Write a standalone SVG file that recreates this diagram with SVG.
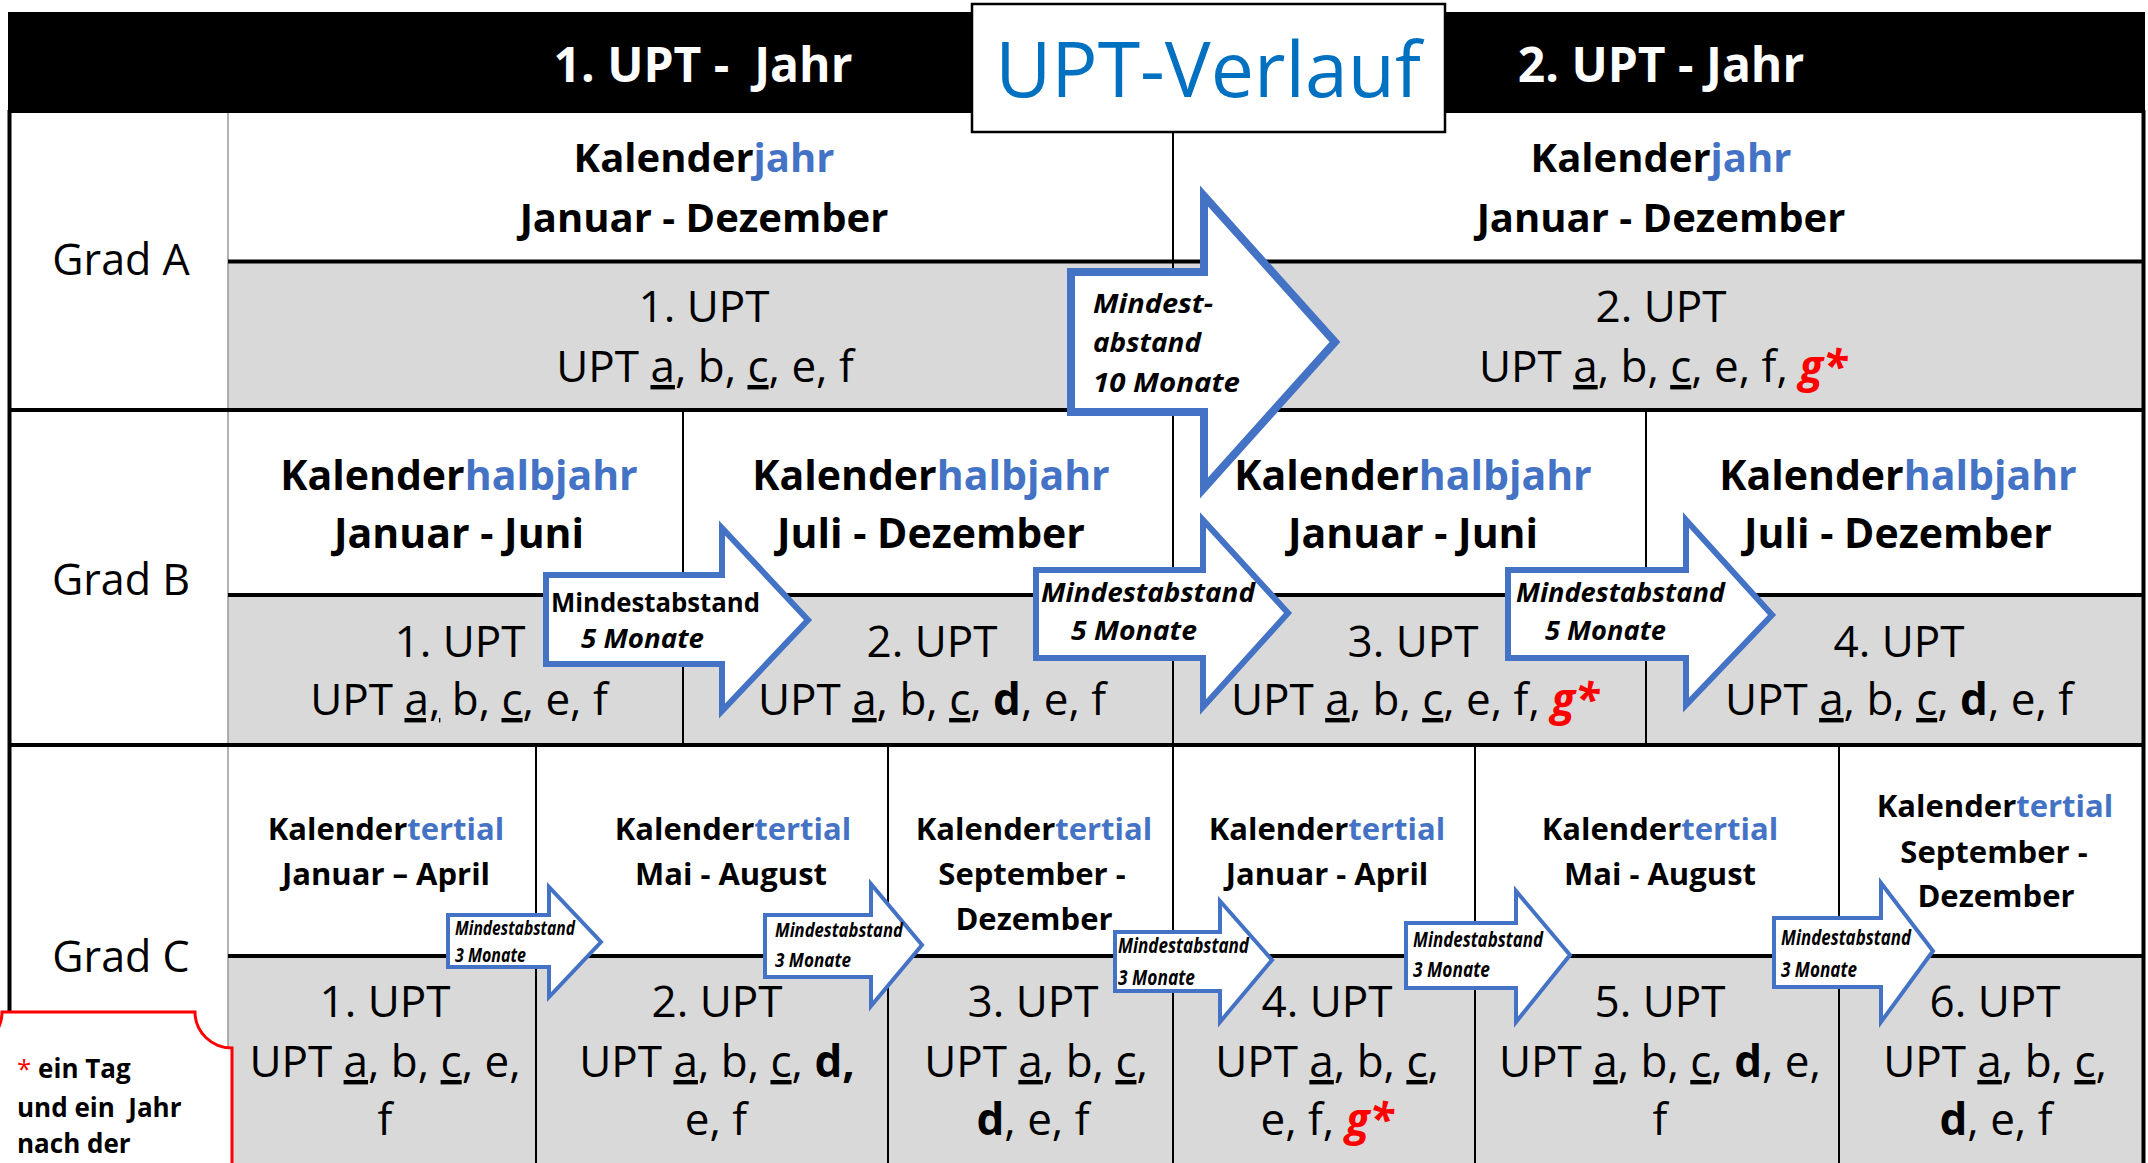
<svg xmlns="http://www.w3.org/2000/svg" width="2148" height="1163" viewBox="0 0 2148 1163">
<style>
text{font-family:"Open Sans","Liberation Sans",sans-serif;fill:#000}
.hdr{font-size:48px;font-weight:bold;fill:#fff;text-anchor:middle}
.ttl{font-size:77px;fill:#0070C0;text-anchor:middle}
.grad{font-size:43px;text-anchor:middle}
.ka{font-size:40px;font-weight:bold;text-anchor:middle}
.ua{font-size:44px;text-anchor:middle}
.kb{font-size:41px;font-weight:bold;text-anchor:middle}
.ub{font-size:44px;text-anchor:middle}
.kc{font-size:31px;font-weight:bold;text-anchor:middle}
.uc{font-size:44px;text-anchor:middle}
.bl{fill:#4472C4}
.u{text-decoration:underline}
.d{font-weight:bold}
.g{fill:#FF0000;font-weight:bold;font-style:italic}
.arr{fill:#fff;stroke:#4472C4;stroke-linejoin:miter}
.at{font-weight:bold;font-style:italic}
.thick{stroke:#000;stroke-width:4}
.thin{stroke:#000;stroke-width:2}
.note{font-size:26px;font-weight:bold}
</style>
<rect width="2148" height="1163" fill="#fff"/>
<g id="table">
<rect x="8" y="12" width="2137" height="101" fill="#000"/>
<rect x="228" y="261" width="1916" height="149" fill="#D9D9D9"/>
<rect x="228" y="595" width="1916" height="150" fill="#D9D9D9"/>
<rect x="228" y="956" width="1916" height="207" fill="#D9D9D9"/>
<line x1="228" y1="113" x2="228" y2="1163" stroke="#999" stroke-width="1.5"/>
<line class="thick" x1="9.5" y1="110" x2="9.5" y2="1163"/>
<line class="thick" x1="2143.5" y1="110" x2="2143.5" y2="1163"/>
<line class="thick" x1="228" y1="261.5" x2="2145" y2="261.5"/>
<line class="thick" x1="8" y1="410" x2="2145" y2="410"/>
<line class="thick" x1="228" y1="595" x2="2145" y2="595"/>
<line class="thick" x1="8" y1="745" x2="2145" y2="745"/>
<line class="thick" x1="228" y1="956" x2="2145" y2="956"/>
<line class="thin" x1="1173" y1="132" x2="1173" y2="410"/>
<line class="thin" x1="683" y1="410" x2="683" y2="745"/>
<line class="thin" x1="1173" y1="410" x2="1173" y2="745"/>
<line class="thin" x1="1646" y1="410" x2="1646" y2="745"/>
<line class="thin" x1="536" y1="745" x2="536" y2="1163"/>
<line class="thin" x1="888" y1="745" x2="888" y2="1163"/>
<line class="thin" x1="1173" y1="745" x2="1173" y2="1163"/>
<line class="thin" x1="1475" y1="745" x2="1475" y2="1163"/>
<line class="thin" x1="1839" y1="745" x2="1839" y2="1163"/>
</g>
<g id="header">
<text class="hdr" x="703" y="82" xml:space="preserve">1. UPT -  Jahr</text>
<text class="hdr" x="1661" y="82">2. UPT - Jahr</text>
</g>
<g id="title">
<rect x="972" y="4" width="473" height="128" fill="#fff" stroke="#000" stroke-width="2.5"/>
<text class="ttl" x="1208" y="97">UPT-Verlauf</text>
</g>
<g id="grad-labels">
<text class="grad" x="121" y="275">Grad A</text>
<text class="grad" x="121" y="595">Grad B</text>
<text class="grad" x="121" y="972">Grad C</text>
</g>
<g id="gradA-1">
<text class="ka" x="704" y="172">Kalender<tspan class="bl">jahr</tspan></text>
<text class="ka" x="704" y="232">Januar - Dezember</text>
<text class="ua" x="704" y="322">1. UPT</text>
<text class="ua" x="705" y="382">UPT <tspan class="u">a</tspan>, b, <tspan class="u">c</tspan>, e, f</text>
</g>
<g id="gradA-2">
<text class="ka" x="1661" y="172">Kalender<tspan class="bl">jahr</tspan></text>
<text class="ka" x="1661" y="232">Januar - Dezember</text>
<text class="ua" x="1661" y="322">2. UPT</text>
<text class="ua" x="1663" y="382">UPT <tspan class="u">a</tspan>, b, <tspan class="u">c</tspan>, e, f, <tspan class="g">g*</tspan></text>
</g>
<g id="gradB-1">
<text class="kb" x="459" y="490">Kalender<tspan class="bl">halbjahr</tspan></text>
<text class="kb" x="459" y="548">Januar - Juni</text>
<text class="ub" x="460" y="657">1. UPT</text>
<text class="ub" x="459" y="715">UPT <tspan class="u">a,</tspan> b, <tspan class="u">c</tspan>, e, f</text>
</g>
<g id="gradB-2">
<text class="kb" x="931" y="490">Kalender<tspan class="bl">halbjahr</tspan></text>
<text class="kb" x="931" y="548">Juli - Dezember</text>
<text class="ub" x="932" y="657">2. UPT</text>
<text class="ub" x="932" y="715">UPT <tspan class="u">a</tspan>, b, <tspan class="u">c</tspan>, <tspan class="d">d</tspan>, e, f</text>
</g>
<g id="gradB-3">
<text class="kb" x="1413" y="490">Kalender<tspan class="bl">halbjahr</tspan></text>
<text class="kb" x="1413" y="548">Januar - Juni</text>
<text class="ub" x="1413" y="657">3. UPT</text>
<text class="ub" x="1415" y="715">UPT <tspan class="u">a</tspan>, b, <tspan class="u">c</tspan>, e, f, <tspan class="g">g*</tspan></text>
</g>
<g id="gradB-4">
<text class="kb" x="1898" y="490">Kalender<tspan class="bl">halbjahr</tspan></text>
<text class="kb" x="1898" y="548">Juli - Dezember</text>
<text class="ub" x="1899" y="657">4. UPT</text>
<text class="ub" x="1899" y="715">UPT <tspan class="u">a</tspan>, b, <tspan class="u">c</tspan>, <tspan class="d">d</tspan>, e, f</text>
</g>
<g id="gradC-1">
<text class="kc" x="386" y="840">Kalender<tspan class="bl">tertial</tspan></text>
<text class="kc" x="386" y="885">Januar – April</text>
<text class="uc" x="385" y="1017">1. UPT</text>
<text class="uc" x="385" y="1077">UPT <tspan class="u">a</tspan>, b, <tspan class="u">c</tspan>, e,</text>
<text class="uc" x="385" y="1135">f</text>
</g>
<g id="gradC-2">
<text class="kc" x="733" y="840">Kalender<tspan class="bl">tertial</tspan></text>
<text class="kc" x="731" y="885">Mai - August</text>
<text class="uc" x="717" y="1017">2. UPT</text>
<text class="uc" x="717" y="1077">UPT <tspan class="u">a</tspan>, b, <tspan class="u">c</tspan>, <tspan class="d">d,</tspan></text>
<text class="uc" x="716" y="1135">e, f</text>
</g>
<g id="gradC-3">
<text class="kc" x="1034" y="840">Kalender<tspan class="bl">tertial</tspan></text>
<text class="kc" x="1032" y="885">September -</text>
<text class="kc" x="1034" y="930">Dezember</text>
<text class="uc" x="1033" y="1017">3. UPT</text>
<text class="uc" x="1036" y="1077">UPT <tspan class="u">a</tspan>, b, <tspan class="u">c</tspan>,</text>
<text class="uc" x="1033" y="1135"><tspan class="d">d</tspan>, e, f</text>
</g>
<g id="gradC-4">
<text class="kc" x="1327" y="840">Kalender<tspan class="bl">tertial</tspan></text>
<text class="kc" x="1327" y="885">Januar - April</text>
<text class="uc" x="1327" y="1017">4. UPT</text>
<text class="uc" x="1327" y="1077">UPT <tspan class="u">a</tspan>, b, <tspan class="u">c</tspan>,</text>
<text class="uc" x="1327" y="1135">e, f, <tspan class="g">g*</tspan></text>
</g>
<g id="gradC-5">
<text class="kc" x="1660" y="840">Kalender<tspan class="bl">tertial</tspan></text>
<text class="kc" x="1660" y="885">Mai - August</text>
<text class="uc" x="1660" y="1017">5. UPT</text>
<text class="uc" x="1660" y="1077">UPT <tspan class="u">a</tspan>, b, <tspan class="u">c</tspan>, <tspan class="d">d</tspan>, e,</text>
<text class="uc" x="1660" y="1135">f</text>
</g>
<g id="gradC-6">
<text class="kc" x="1995" y="817">Kalender<tspan class="bl">tertial</tspan></text>
<text class="kc" x="1994" y="863">September -</text>
<text class="kc" x="1996" y="907">Dezember</text>
<text class="uc" x="1995" y="1017">6. UPT</text>
<text class="uc" x="1995" y="1077">UPT <tspan class="u">a</tspan>, b, <tspan class="u">c</tspan>,</text>
<text class="uc" x="1996" y="1135"><tspan class="d">d</tspan>, e, f</text>
</g>
<g id="connectors">
<g id="arrowA">
<polygon class="arr" stroke-width="8" points="1071,272 1204,272 1204,196 1335,342 1204,488 1204,412 1071,412"/>
<text class="at" font-size="27" x="1093" y="313" textLength="120" lengthAdjust="spacingAndGlyphs">Mindest-</text>
<text class="at" font-size="27" x="1093" y="352" textLength="108" lengthAdjust="spacingAndGlyphs">abstand</text>
<text class="at" font-size="27" x="1093" y="392" textLength="147" lengthAdjust="spacingAndGlyphs">10 Monate</text>
</g>
<g id="arrowB1">
<polygon class="arr" stroke-width="6" points="546,575 722,575 722,528 808,620 722,711 722,664 546,664"/>
<text font-weight="bold" font-size="27" x="551" y="612" textLength="209" lengthAdjust="spacingAndGlyphs">Mindestabstand</text>
<text class="at" font-size="27" x="581" y="648" textLength="123" lengthAdjust="spacingAndGlyphs">5 Monate</text>
</g>
<g id="arrowB2">
<polygon class="arr" stroke-width="6" points="1036,570 1203,570 1203,520 1288,613 1203,707 1203,658 1036,658"/>
<text class="at" font-size="27" x="1041" y="602" textLength="214" lengthAdjust="spacingAndGlyphs">Mindestabstand</text>
<text class="at" font-size="27" x="1071" y="640" textLength="126" lengthAdjust="spacingAndGlyphs">5 Monate</text>
</g>
<g id="arrowB3">
<polygon class="arr" stroke-width="6" points="1508,570 1686,570 1686,520 1772,615 1686,705 1686,658 1508,658"/>
<text class="at" font-size="27" x="1516" y="602" textLength="209" lengthAdjust="spacingAndGlyphs">Mindestabstand</text>
<text class="at" font-size="27" x="1545" y="640" textLength="121" lengthAdjust="spacingAndGlyphs">5 Monate</text>
</g>
<g id="arrowC1">
<polygon class="arr" stroke-width="4" points="448,915 549,915 549,887 601,942 549,997 549,967 448,967"/>
<text class="at" font-size="19" x="455" y="935" textLength="120" lengthAdjust="spacingAndGlyphs">Mindestabstand</text>
<text class="at" font-size="19" x="455" y="962" textLength="71" lengthAdjust="spacingAndGlyphs">3 Monate</text>
</g>
<g id="arrowC2">
<polygon class="arr" stroke-width="4" points="765,915 871,915 871,884 922,945 871,1006 871,977 765,977"/>
<text class="at" font-size="20" x="775" y="937" textLength="128" lengthAdjust="spacingAndGlyphs">Mindestabstand</text>
<text class="at" font-size="20" x="775" y="967" textLength="76" lengthAdjust="spacingAndGlyphs">3 Monate</text>
</g>
<g id="arrowC3">
<polygon class="arr" stroke-width="4" points="1115,932 1220,932 1220,901 1272,960 1220,1022 1220,991 1115,991"/>
<text class="at" font-size="21" x="1118" y="953" textLength="131" lengthAdjust="spacingAndGlyphs">Mindestabstand</text>
<text class="at" font-size="21" x="1118" y="985" textLength="77" lengthAdjust="spacingAndGlyphs">3 Monate</text>
</g>
<g id="arrowC4">
<polygon class="arr" stroke-width="4" points="1406,923 1516,923 1516,891 1570,955 1516,1022 1516,988 1406,988"/>
<text class="at" font-size="21" x="1413" y="947" textLength="130" lengthAdjust="spacingAndGlyphs">Mindestabstand</text>
<text class="at" font-size="21" x="1413" y="977" textLength="77" lengthAdjust="spacingAndGlyphs">3 Monate</text>
</g>
<g id="arrowC5">
<polygon class="arr" stroke-width="4" points="1774,918 1881,918 1881,883 1933,951 1881,1022 1881,987 1774,987"/>
<text class="at" font-size="21" x="1781" y="945" textLength="130" lengthAdjust="spacingAndGlyphs">Mindestabstand</text>
<text class="at" font-size="21" x="1781" y="977" textLength="76" lengthAdjust="spacingAndGlyphs">3 Monate</text>
</g>
</g>
<g id="note">
<path d="M -40,1163 L -40,1050 A 40 38 0 0 0 2,1012 L 195,1012 A 37 36 0 0 0 232,1048 L 232,1163" fill="#fff" stroke="#FF0000" stroke-width="3"/>
<text class="note" x="17" y="1078"><tspan fill="#FF0000" font-weight="normal">*</tspan> ein Tag</text>
<text class="note" x="17" y="1117" xml:space="preserve">und ein  Jahr</text>
<text class="note" x="17" y="1153">nach der</text>
</g>
</svg>
